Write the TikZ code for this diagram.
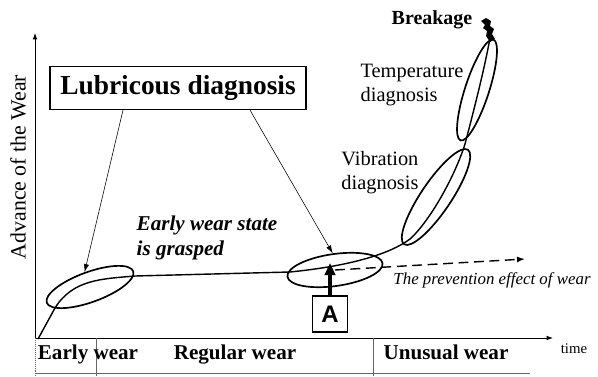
\documentclass[tikz,border=0pt]{standalone}
\usepackage{fontspec}
\setmainfont{Liberation Serif}
\newfontfamily\labelsans{Liberation Sans}
\usetikzlibrary{arrows.meta, positioning, shapes.geometric, calc}

\begin{document}
\begin{tikzpicture}[
    x=0.025cm, y=0.025cm,
    axis/.style={-{Latex[length=1.6mm,width=1.2mm]}, line width=0.7pt},
    wearcurve/.style={line width=1pt},
    ring/.style={draw, ellipse, line width=1.2pt, inner sep=0pt},
    pointer/.style={-{Latex[length=2mm,width=1.3mm]}, line width=0.4pt},
    effect/.style={-{Latex[length=2mm,width=1.5mm]}, line width=1pt, dash pattern=on 7pt off 4pt},
    push/.style={-{Triangle[length=3mm,width=2.6mm]}, line width=2.5pt},
    sep/.style={line width=0.4pt, black!60},
    band/.style={anchor=base, font=\fontsize{15}{17}\selectfont\bfseries},
    note/.style={font=\fontsize{14.5}{17}\selectfont, align=left, inner sep=0pt},
    lubbox/.style={draw, line width=1pt, minimum width=6.4cm, minimum height=1.07cm, font=\fontsize{19.5}{22}\selectfont\bfseries},
    abox/.style={draw, line width=1pt, minimum width=0.875cm, minimum height=0.9cm, font=\labelsans\bfseries\fontsize{17}{17}\selectfont}
  ]
  \useasboundingbox (0,0) rectangle (598,376);

  % axes
  \coordinate (O) at (35,38);
  \coordinate (ytop) at (35,343);
  \coordinate (xend) at (553,38);
  \draw[axis] (O) -- (ytop);
  \draw[axis] (O) -- (xend);
  \node[rotate=90, font=\fontsize{15.5}{18}\selectfont] (ylab) at (18,209) {Advance of the Wear};
  \node[font=\fontsize{10.5}{12}\selectfont] (time) at (574,27) {time};

  % wear stages
  \draw[sep] (35,3) -- (530,3);
  \draw[sep, densely dotted] (O) -- (35,0);
  \draw[sep] (96,38) -- (96,0);
  \draw[sep] (373,38) -- (373,0);
  \node[band] (early) at (88,17) {Early wear};
  \node[band] (regular) at (235,17) {Regular wear};
  \node[band] (unusual) at (446,17) {Unusual wear};

  % wear curve
  \draw[wearcurve] (38,37) -- (55,68) to[out=58,in=185] (135,100) -- (290,104)
    .. controls (350,110) and (390,122) .. (410,137)
    .. controls (430,155) and (455,200) .. (465,232)
    .. controls (475,270) and (485,310) .. (490,338);
  \fill (486,358) -- (481,355) -- (485,351) -- (483,348) -- (487,345) -- (486,340)
    -- (490,334) -- (495,337) -- (492,342) -- (494,347) -- (490,350) -- (491,355) -- cycle;
  \node[font=\fontsize{14.2}{16}\selectfont\bfseries] (brk) at (432,356) {Breakage};

  % diagnosis ranges
  \node[ring, minimum width=2.3cm, minimum height=0.75cm, rotate=20] (ellL) at (90,89) {};
  \node[ring, minimum width=2.4cm, minimum height=0.8cm, rotate=8] (ellA) at (335,106) {};
  \node[ring, minimum width=2.85cm, minimum height=0.75cm, rotate=56] (ellV) at (436,179) {};
  \node[ring, minimum width=2.65cm, minimum height=0.6cm, rotate=72] (ellT) at (477,286) {};

  \node[note, font=\fontsize{15}{17.5}\selectfont\bfseries\itshape] (grasp) at (207,138) {Early wear state\\is grasped};
  \node[note] (temp) at (412,291) {Temperature\\diagnosis};
  \node[note] (vib) at (380,203) {Vibration\\diagnosis};

  \node[lubbox] (lub) at (178,288) {Lubricous diagnosis};
  \draw[pointer] ([xshift=-1.375cm]lub.south) -- (ellL.north);
  \draw[pointer] ([xshift=1.8cm]lub.south) -- (ellA.north);

  % prevention
  \coordinate (effend) at (525,117);
  \draw[effect] (ellA.center) -- (effend);
  \node[font=\fontsize{12}{14}\selectfont\itshape] (prev) at (492,96) {The prevention effect of wear};

  \node[abox] (boxA) at (330,62) {A};
  \coordinate (atip) at (330,113);
  \draw[push] (boxA) -- (atip);
\end{tikzpicture}
\end{document}
